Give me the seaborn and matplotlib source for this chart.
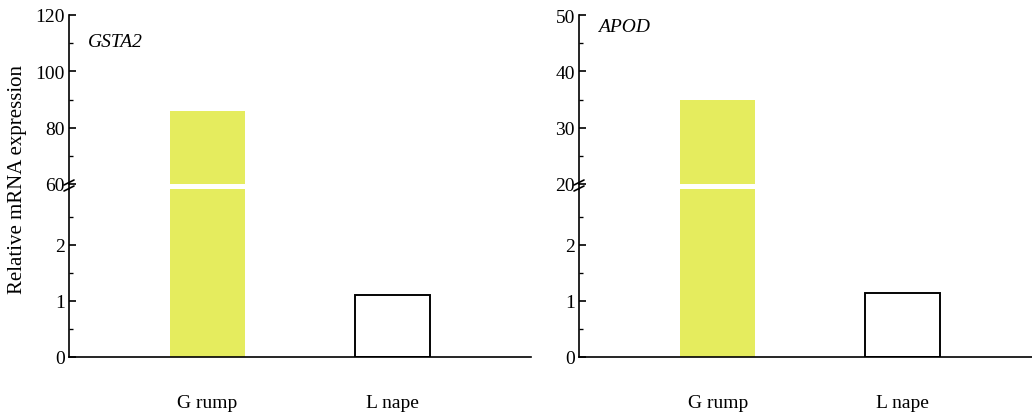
import matplotlib
matplotlib.use("Agg")
import matplotlib.pyplot as plt
import seaborn as sns
from matplotlib.lines import Line2D

# ---- data ----
categories = ["G rump", "L nape"]
genes = ["GSTA2", "APOD"]
gsta2_values = [86.0, 1.1]
apod_values = [35.0, 1.15]
upper_limits = [(60, 120), (20, 50)]
upper_ticks = [[60, 80, 100, 120], [20, 30, 40, 50]]
lower_limits = (0, 3)
lower_ticks = [0, 1, 2]
ylabel = "Relative mRNA expression"

YELLOW = "#E5EC5E"

sns.set_theme(style="white")
plt.rcParams["font.family"] = ["Liberation Serif", "DejaVu Serif"]
plt.rcParams["text.color"] = "black"

W, H = 1032, 414
fig = plt.figure(figsize=(W / 100, H / 100), dpi=100)

def fx(px):
    return px / W

def fy(py):
    return 1 - py / H

panels = [
    dict(x0=69, x1=531, vals=gsta2_values, gene=genes[0], gpos=(0.041, 0.846),
         ulim=upper_limits[0], uticks=upper_ticks[0], xlim=(-0.75, 1.75)),
    dict(x0=579, x1=1032, vals=apod_values, gene=genes[1], gpos=(0.042, 0.929),
         ulim=upper_limits[1], uticks=upper_ticks[1], xlim=(-0.75, 1.70)),
]

top_px, ubot_px, ltop_px, bot_px = 16, 185, 190, 358
lw = 1.2

for i, p in enumerate(panels):
    left = fx(p["x0"])
    width = fx(p["x1"] - p["x0"])
    ax_u = fig.add_axes([left, fy(ubot_px), width, fy(top_px) - fy(ubot_px)])
    ax_l = fig.add_axes([left, fy(bot_px), width, fy(ltop_px) - fy(bot_px)])

    for ax in (ax_u, ax_l):
        sns.barplot(x=categories, y=p["vals"], hue=categories,
                    palette=[YELLOW, "white"], legend=False, width=0.405,
                    ax=ax, saturation=1)
        bars = ax.patches
        bars[0].set_edgecolor(YELLOW)
        bars[0].set_linewidth(0)
        bars[1].set_edgecolor("black")
        bars[1].set_linewidth(lw * 1.15)
        ax.set_xlim(*p["xlim"])
        ax.set_facecolor("white")
        ax.set_ylabel("")
        ax.set_xlabel("")
        for s in ["top", "right"]:
            ax.spines[s].set_visible(False)
        ax.spines["left"].set_color("black")
        ax.spines["left"].set_linewidth(lw)
        ax.tick_params(axis="y", which="major", direction="in", length=5,
                       width=lw, color="black", labelsize=14, pad=3,
                       left=True, labelcolor="black")
        ax.tick_params(axis="y", which="minor", direction="in", length=3,
                       width=lw * 0.8, color="black", left=True)

    # upper axes
    ax_u.set_ylim(*p["ulim"])
    ax_u.set_yticks(p["uticks"])
    step = p["uticks"][1] - p["uticks"][0]
    ax_u.set_yticks([t + step / 2 for t in p["uticks"][:-1]], minor=True)
    ax_u.spines["bottom"].set_visible(False)
    ax_u.set_xticks([])
    ax_u.text(p["gpos"][0], p["gpos"][1], p["gene"], transform=ax_u.transAxes,
              fontsize=14, style="italic", ha="left", va="center", color="black")

    # lower axes
    ax_l.set_ylim(*lower_limits)
    ax_l.set_yticks(lower_ticks)
    ax_l.set_yticks([0.5, 1.5, 2.5], minor=True)
    ax_l.spines["bottom"].set_color("black")
    ax_l.spines["bottom"].set_linewidth(lw)
    ax_l.tick_params(axis="x", length=0, labelsize=14, pad=27, labelcolor="black")
    ax_l.set_xticks([0, 1])
    ax_l.set_xticklabels(categories)

    # connect spine across the break
    xs = fx(p["x0"])
    fig.add_artist(Line2D([xs, xs], [fy(ltop_px), fy(ubot_px)],
                          color="black", lw=lw, transform=fig.transFigure))
    # break marks (double slash)
    for ypx in (ubot_px - 1.5, ltop_px - 0.5):
        fig.add_artist(Line2D([fx(p["x0"] - 5), fx(p["x0"] + 5)],
                              [fy(ypx + 2.5), fy(ypx - 2.5)],
                              color="black", lw=lw, transform=fig.transFigure))

fig.text(fx(18), fy(180), ylabel, rotation=90, ha="center", va="center",
         fontsize=15, color="black")

fig.savefig("out.png", dpi=100, facecolor="white")
